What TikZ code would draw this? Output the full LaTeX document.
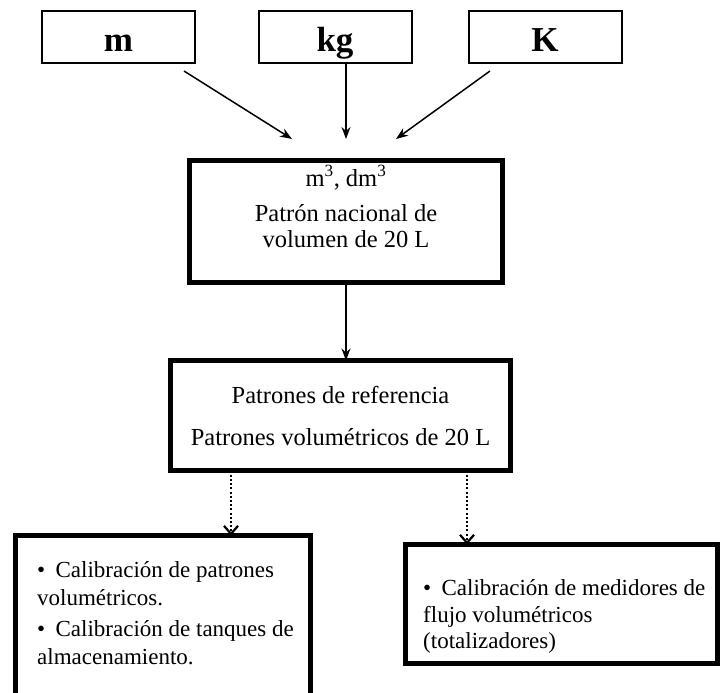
\documentclass[tikz,border=0pt]{standalone}
\usepackage{fontspec}
\setmainfont{Liberation Serif}
\usetikzlibrary{arrows.meta}
\begin{document}
\begin{tikzpicture}[x=1pt,y=-1pt,
  unitbox/.style={draw, line width=2pt, minimum width=153pt, minimum height=52pt, inner sep=0pt, outer sep=0pt},
  thickbox/.style={draw, line width=5pt, inner sep=0pt, outer sep=0pt},
  unitlbl/.style={inner sep=0pt, anchor=base, font=\fontsize{35}{40}\selectfont\bfseries},
  midtxt/.style={inner sep=0pt, anchor=base, font=\fontsize{24.5}{28}\selectfont},
  lowtxt/.style={inner sep=0pt, anchor=base west, font=\fontsize{23}{27}\selectfont},
  solidarrow/.style={line width=1.5pt, -{Stealth[length=12pt,width=9pt]}},
  dotarrow/.style={line width=2.8pt, dash pattern={on 2pt off 2.2pt}, -{Straight Barb[length=8pt,width=14pt,line width=2.2pt]}}]
\clip (0,0) rectangle (728,693);
\fill[white] (0,0) rectangle (728,693);

% top unit boxes
\node[unitbox] (m)  at (118.5,37) {};
\node[unitbox] (kg) at (335,37) {};
\node[unitbox] (K)  at (545,37) {};
\node[unitlbl] (mt)  at (118.5,52) {m};
\node[unitlbl] (kgt) at (335,52) {kg};
\node[unitlbl] (Kt)  at (545,52) {K};

% national standard box
\node[thickbox, minimum width=313pt, minimum height=122pt] (mid) at (346,221.5) {};
\node[midtxt] (midA) at (346,186) {m\textsuperscript{3}, dm\textsuperscript{3}};
\node[midtxt] (midB) at (346,221) {Patrón nacional de};
\node[midtxt] (midC) at (346,247) {volumen de 20 L};

% reference standards box
\node[thickbox, minimum width=340pt, minimum height=110pt] (ref) at (340.5,415.5) {};
\node[midtxt] (refA) at (340.5,403) {Patrones de referencia};
\node[midtxt] (refB) at (340.5,445) {Patrones volumétricos de 20 L};

% lower boxes
\node[thickbox, minimum width=295pt, minimum height=190pt] (left) at (163,630.5) {};
\node[lowtxt] (l1) at (37,577) {•\hspace{0.45em}Calibración de patrones};
\node[lowtxt] (l2) at (37,605) {volumétricos.};
\node[lowtxt] (l3) at (37,636) {•\hspace{0.45em}Calibración de tanques de};
\node[lowtxt] (l4) at (37,664) {almacenamiento.};

\node[thickbox, minimum width=312pt, minimum height=119pt] (right) at (561,604) {};
\node[lowtxt] (r1) at (423,595) {•\hspace{0.45em}Calibración de medidores de};
\node[lowtxt] (r2) at (423,622) {flujo volumétricos};
\node[lowtxt] (r3) at (423,648) {(totalizadores)};

% arrows from units
\coordinate (ma) at (184,71);
\coordinate (mb) at (292,139);
\coordinate (kgb) at (346,139);
\coordinate (Ka) at (490,71);
\coordinate (Kb) at (396,139);
\draw[solidarrow] (ma) -- (mb);
\draw[solidarrow] (kg.south -| mid.center) -- (kgb);
\draw[solidarrow] (Ka) -- (Kb);

% national -> reference
\draw[solidarrow] (mid.south) -- (mid.south |- ref.north);

% reference -> applications
\draw[dotarrow] (ref.south -| 231,0) -- (left.north -| 231,0);
\draw[dotarrow] (ref.south -| 467,0) -- (right.north -| 467,0);
\end{tikzpicture}
\end{document}
